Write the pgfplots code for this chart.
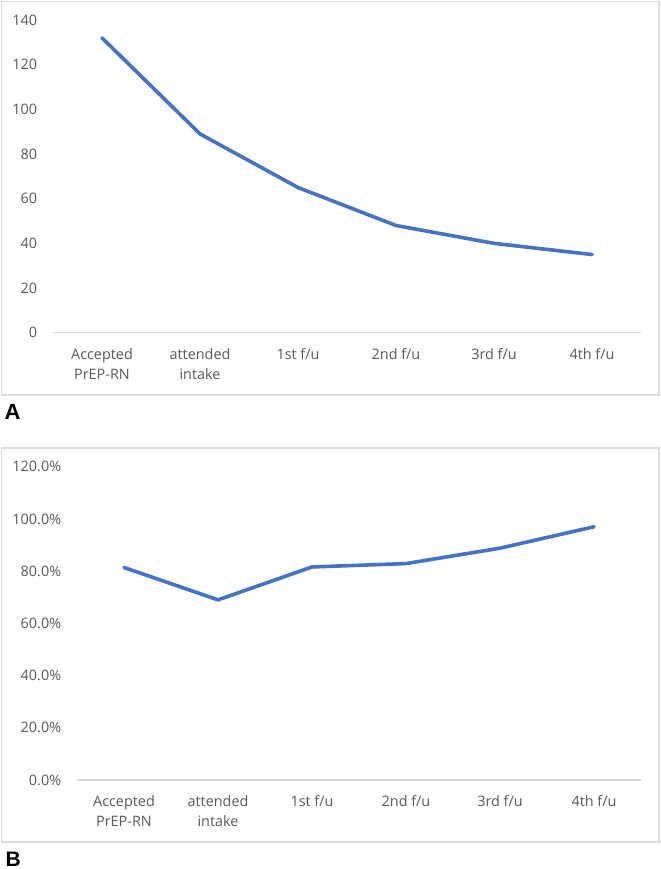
\documentclass[border=0pt]{standalone}
\usepackage{pgfplots}
\pgfplotsset{compat=1.18}
\usepackage{fontspec}
\setmainfont{Open Sans}
\newfontfamily\labelfont{Liberation Sans}
\definecolor{linecol}{HTML}{4472C4}
\definecolor{txtgray}{HTML}{595959}
\definecolor{axgray}{HTML}{D9D9D9}
\definecolor{boxgray}{HTML}{DCDCDC}
\pgfplotsset{
  common/.style={
    scale only axis,
    anchor=south west,
    axis lines*=left,
    y axis line style={draw=none},
    x axis line style={draw=axgray, line width=1.3bp, -},
    major tick length=0pt,
    xmin=-0.5, xmax=5.5,
    xtick={0,1,2,3,4,5},
    xticklabels={{Accepted\\PrEP-RN},{attended\\intake},{1st f/u},{2nd f/u},{3rd f/u},{4th f/u}},
    x tick label style={anchor=north, align=center, inner sep=0pt, yshift=-15.7bp,
      font=\fontsize{14.4bp}{20bp}\selectfont, text=txtgray},
    y tick label style={anchor=east, inner sep=0pt, xshift=-15.7bp,
      font=\fontsize{14.4bp}{20bp}\selectfont, text=txtgray},
    /pgf/number format/assume math mode=true,
    clip=false,
  }
}
\begin{document}
\begin{tikzpicture}[x=1bp,y=1bp]
\useasboundingbox (0,0) rectangle (661,-869);
\draw[boxgray, line width=1.3bp, fill=white] (1.3,-1.3) rectangle (659,-395);
\draw[boxgray, line width=1.3bp, fill=white] (1.3,-448) rectangle (659,-842);
\node[anchor=base west, inner sep=0pt, font=\labelfont\bfseries\fontsize{22bp}{22bp}\selectfont] at (4.5,-419.3) {A};
\node[anchor=base west, inner sep=0pt, font=\labelfont\bfseries\fontsize{21bp}{21bp}\selectfont] at (5.5,-866.7) {B};

\begin{axis}[common, at={(53bp,-332.7bp)}, width=588bp, height=312.7bp,
  ymin=0, ymax=140, ytick={0,20,...,140}]
\addplot[linecol, line width=3.6bp, line cap=round, line join=round]
  coordinates {(0,132) (1,89) (2,65) (3,48) (4,40) (5,35)};
\end{axis}

\begin{axis}[common, at={(77bp,-780bp)}, width=564bp, height=313.3bp,
  ymin=0, ymax=120, ytick={0,20,...,120},
  yticklabel={\pgfmathprintnumber[fixed,fixed zerofill,precision=1]{\tick}\%}]
\addplot[linecol, line width=3.6bp, line cap=round, line join=round]
  coordinates {(0,81.4) (1,69.0) (2,81.6) (3,82.9) (4,88.8) (5,97.0)};
\end{axis}
\end{tikzpicture}
\end{document}
